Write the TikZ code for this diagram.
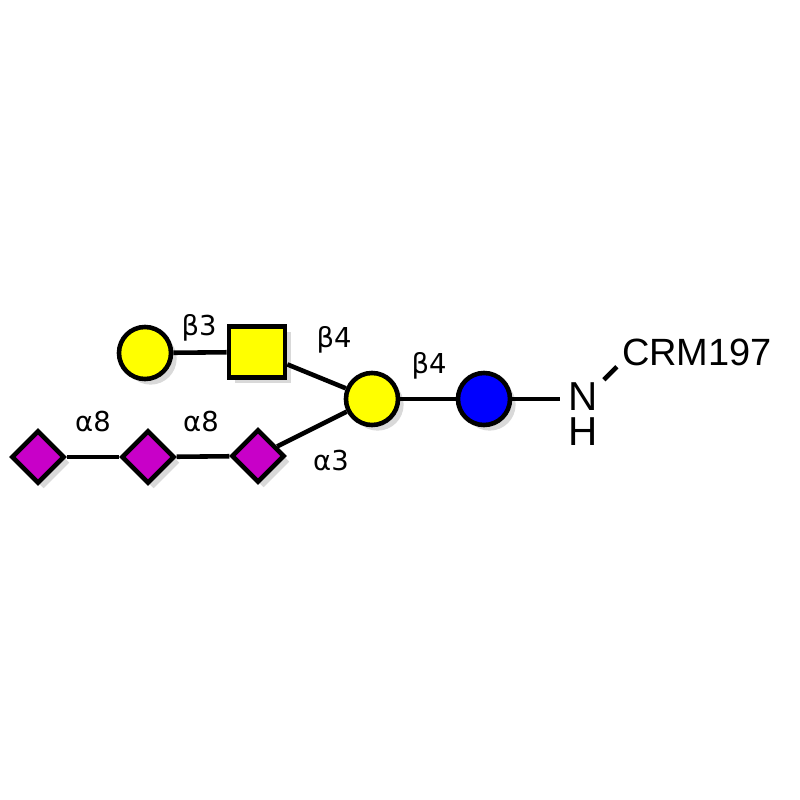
\documentclass[tikz,border=0pt]{standalone}
\usepackage{fontspec}
\setmainfont{DejaVu Sans}
\newfontfamily\arialfont{Liberation Sans}
\usetikzlibrary{shapes.geometric}
\usetikzlibrary{shadows}
\definecolor{galyellow}{RGB}{255,255,0}
\definecolor{glcblue}{RGB}{0,0,255}
\definecolor{siamagenta}{RGB}{200,0,200}
\tikzset{
	every path/.style={line width=1.3pt},
	sugar/.style={
		draw,
		inner sep=0pt,
		drop shadow={shadow xshift=1.6pt, shadow yshift=-1.6pt, opacity=0.3},
	},
	gal/.style={
		sugar,
		circle,
		fill=galyellow,
		minimum size=0.52cm
	},
	glc/.style={
		sugar,
		circle,
		fill=glcblue,
		minimum size=0.52cm
	},
	galnac/.style={
		sugar,
		rectangle,
		fill=galyellow,
		minimum width=0.56cm,
		minimum height=0.51cm
	},
	neuac/.style={
		sugar,
		diamond,
		fill=siamagenta,
		minimum size=0.53cm
	},
	link/.style={
		font=\fontsize{7.8}{9}\selectfont,
		inner sep=0pt
	},
	atom/.style={
		font=\arialfont\fontsize{11.5}{13}\selectfont,
		inner sep=0.01cm
	},
}
\begin{document}
\begin{tikzpicture}[x=0.01cm, y=-0.01cm]
		\useasboundingbox (0,0) rectangle (800,800);

		\node[gal] (galL) at (145,353) {};
		\node[galnac] (galnac) at (257,352) {};
		\node[gal] (galC) at (372,399) {};
		\node[glc] (glc) at (484,399) {};
		\node[neuac] (sia1) at (38,457) {};
		\node[neuac] (sia2) at (148,457) {};
		\node[neuac] (sia3) at (258,456) {};

		\node[atom] (N) at (583,397) {N};
		\node[atom] (H) at (583,432) {H};
		\node[atom, font=\arialfont\fontsize{10.8}{13}\selectfont] (crm) at (697,352) {CRM197};

		\draw (galL) -- (galnac);
		\draw (galnac) -- (galC);
		\draw (sia1) -- (sia2);
		\draw (sia2) -- (sia3);
		\draw (sia3) -- (galC);
		\draw (galC) -- (glc);
		\draw[shorten >=1.5pt] (glc) -- (glc -| N.west);
		\draw ([xshift=0.03cm]N.north east) -- ([xshift=-0.02cm, yshift=0.02cm]crm.south west);

		% linkage labels
		\node[link] (lb3) at (199,328) {β3};
		\node[link] (lb4a) at (334,340) {β4};
		\node[link] (lb4b) at (429,366) {β4};
		\node[link] (la8a) at (93,422) {α8};
		\node[link] (la8b) at (201,422) {α8};
		\node[link] (la3) at (331,461) {α3};

\end{tikzpicture}
\end{document}
